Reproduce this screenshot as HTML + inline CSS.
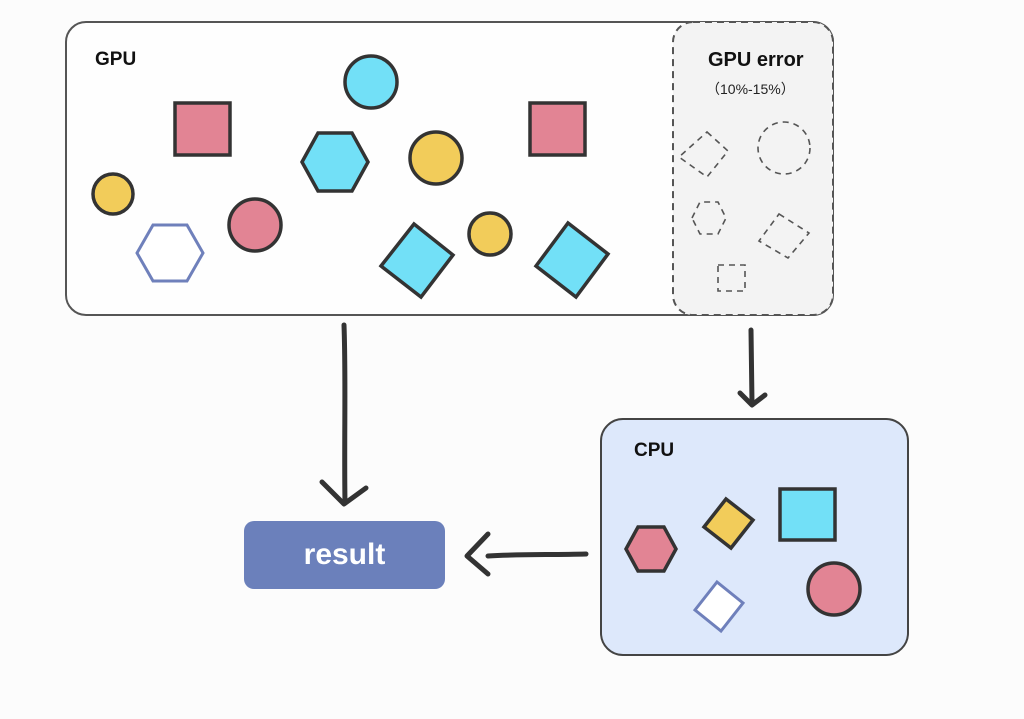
<!DOCTYPE html>
<html><head><meta charset="utf-8"><style>
html,body{margin:0;padding:0;background:#fcfcfc;}
svg{display:block;}
text{font-family:"Liberation Sans","Noto Sans CJK SC",sans-serif;}
</style></head><body>
<svg width="1024" height="719" viewBox="0 0 1024 719" xmlns="http://www.w3.org/2000/svg">
<rect x="0" y="0" width="1024" height="719" fill="#fcfcfc"/>
<rect x="66" y="22" width="767" height="293" rx="20" fill="#fefefe" stroke="#555" stroke-width="2"/>
<path d="M693,22 H813 A20,20 0 0 1 833,42 V295 A20,20 0 0 1 813,315 H693 A20,20 0 0 1 673,295 V42 A20,20 0 0 1 693,22 Z" fill="#f3f3f3" stroke="#555" stroke-width="2" stroke-dasharray="7,5"/>
<text x="95" y="65" font-size="19" font-weight="bold" fill="#111">GPU</text>
<text x="708" y="66" font-size="20" font-weight="bold" fill="#111">GPU error</text>
<text x="706" y="94" font-size="14" fill="#222">（10%-15%）</text>
<g stroke="#333" stroke-width="3.5">
<rect x="175" y="103" width="55" height="52" fill="#e28494"/>
<circle cx="371" cy="82" r="26" fill="#72e0f7"/>
<polygon points="302,162 318,133 352,133 368,162 352,191 318,191" fill="#72e0f7"/>
<circle cx="436" cy="158" r="26" fill="#f2cc5a"/>
<rect x="530" y="103" width="55" height="52" fill="#e28494"/>
<circle cx="113" cy="194" r="20" fill="#f2cc5a"/>
<circle cx="255" cy="225" r="26" fill="#e28494"/>
<polygon points="414,224 453,255 421,297 381,266" fill="#72e0f7"/>
<circle cx="490" cy="234" r="21" fill="#f2cc5a"/>
<polygon points="568,223 608,254 576,297 536,266" fill="#72e0f7"/>
</g>
<polygon points="137,253 153,225 187,225 203,253 187,281 153,281" fill="#fff" stroke="#6f80bb" stroke-width="3"/>
<g fill="none" stroke="#555" stroke-width="1.6" stroke-dasharray="6,5">
<polygon points="707,132 728,151 707,177 679,157"/>
<circle cx="784" cy="148" r="26"/>
<polygon points="692,218 700,202 718,202 726,218 718,234 700,234"/>
<polygon points="779,214 809,233 788,258 759,241"/>
<rect x="718" y="265" width="27" height="26"/>
</g>
<rect x="601" y="419" width="307" height="236" rx="22" fill="#dde8fb" stroke="#444" stroke-width="2"/>
<text x="634" y="456" font-size="19" font-weight="bold" fill="#111">CPU</text>
<g stroke="#333" stroke-width="3.5">
<polygon points="626,549 638,527 664,527 676,549 664,571 638,571" fill="#e28494"/>
<polygon points="726,499 753,520 731,548 704,527" fill="#f2cc5a"/>
<rect x="780" y="489" width="55" height="51" fill="#72e0f7"/>
<circle cx="834" cy="589" r="26" fill="#e28494"/>
</g>
<polygon points="717,582 743,603 721,631 695,610" fill="#fff" stroke="#6f80bb" stroke-width="3"/>
<rect x="244" y="521" width="201" height="68" rx="10" fill="#6b80bb"/>
<text x="344.5" y="564" font-size="30" font-weight="bold" fill="#fff" text-anchor="middle">result</text>
<g fill="none" stroke="#333" stroke-width="5" stroke-linecap="round" stroke-linejoin="round">
<path d="M344,325 C346,380 344,440 345,503"/>
<path d="M322,482 L344,504 L366,488"/>
<path d="M751,330 L752,403"/>
<path d="M740,393 L752,405 L765,395"/>
<path d="M586,554 C550,555 520,554 488,556"/>
<path d="M488,534 L467,556 L488,574"/>
</g>
</svg>
</body></html>
